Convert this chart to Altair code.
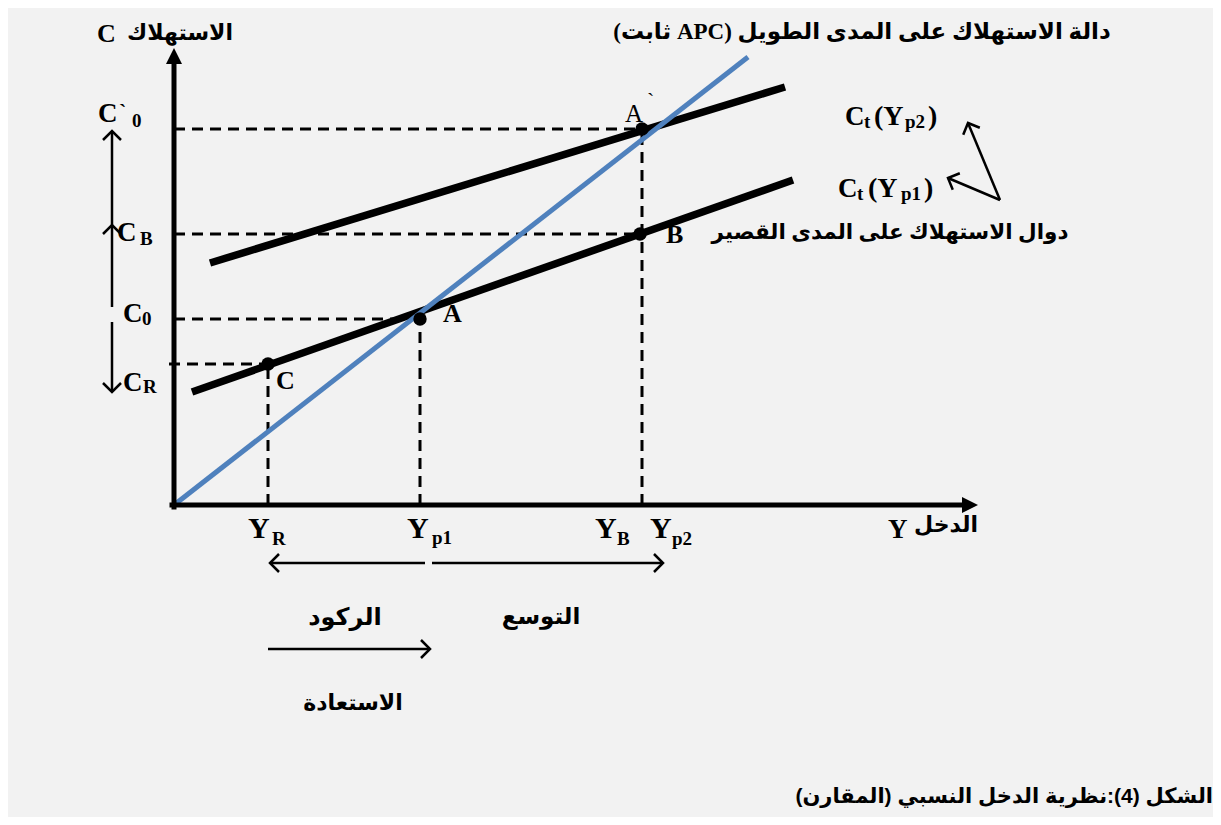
import altair as alt
import pandas as pd

# ---------------- data (economic units: income Y to the right, consumption C upward) -------------
lr_Y = [0, 574]            # long-run consumption function (constant APC)
lr_C = [0, 448]
sr1_Y = [18, 619]          # short-run consumption function Ct(Yp1)
sr1_C = [113, 325]
sr2_Y = [36, 611]          # short-run consumption function Ct(Yp2)
sr2_C = [242, 418]
pt_name = ["A`", "B", "A", "C"]
pt_Y = [468, 466, 246, 94]
pt_C = [376, 271, 186, 141]
axis_Y_max = 804
axis_C_max = 457

# Latin labels: (text, left Y, baseline C, font size) -- bold serif
latin_labels = [
    ("C", -76, 383, 27), ("`", -55, 386, 22), ("0", -42, 378, 19),
    ("C", -57, 264, 27), ("B", -34, 260, 19),
    ("C", -51, 183, 27), ("0", -32, 180, 19),
    ("C", -51, 114, 27), ("R", -31, 112, 19),
    ("B", 492, 262, 26), ("A", 269, 183, 26), ("C", 102, 116, 26),
    ("Y", 74, -33, 30), ("R", 98, -40, 19),
    ("Y", 233, -33, 30), ("p1", 258, -39, 19),
    ("Y", 421, -33, 30), ("B", 443, -40, 19),
    ("Y", 476, -33, 30), ("p2", 498, -40, 19),
    ("C", 671, 380, 27), ("t", 690, 377, 19), ("(Y", 700, 380, 28), ("p2", 731, 377, 19), (")", 754, 380, 28),
    ("C", 664, 308, 27), ("t", 683, 305, 19), ("(Y", 694, 308, 28), ("p1", 727, 305, 19), (")", 750, 308, 28),
    ("C", -77, 463, 26),      # axis name C
    ("Y", 714, -33, 27),      # axis name Y
]
# regular-weight label of point A`
regular_labels = [("A", 451, 383, 25), ("`", 473, 397, 22)]

# Arabic labels: (text, centre Y, centre C, font size)
arabic_labels = [
    ("الاستهلاك", 6, 472, 22),
    ("دالة الاستهلاك على المدى الطويل (APC ثابت)", 688, 473, 23),
    ("دوال الاستهلاك على المدى القصير", 716, 272, 21.5),
    ("الدخل", 772, -20, 22),
    ("الركود", 171, -113, 24),
    ("التوسع", 367, -112, 23),
    ("الاستعادة", 179, -198, 22),
]
caption = ("الشكل (4):نظرية الدخل النسبي (المقارن)", 1039, -292, 21)

# thin arrows: shafts (Y, C, Y2, C2) and heads (Y, C, direction)
arrow_shafts = [(-62, 374, -62, 198), (-62, 183, -62, 113),
                (251, -58, 96, -58), (258, -58, 489, -58),
                (94, -144, 256, -144),
                (826, 305, 794, 382), (826, 305, 774, 327)]
arrow_heads = [(-62, 374, 0), (-62, 280, 0), (-62, 113, 180),
               (96, -58, 270), (489, -58, 90), (256, -144, 90),
               (794, 382, 337), (774, 327, 293)]

# ---------------- build ----------------
XS = alt.Scale(domain=[-166, 1039], nice=False, zero=False)
YS = alt.Scale(domain=[-312, 497], nice=False, zero=False)


def rtl(s):
    return "\u202B" + s + "\u202C"


def seg_df(rows):
    return pd.DataFrame(rows, columns=["x", "y", "x2", "y2"])


def rules(df, **kw):
    return alt.Chart(df).mark_rule(**kw).encode(
        x=alt.X("x:Q", scale=XS, axis=None),
        y=alt.Y("y:Q", scale=YS, axis=None),
        x2="x2:Q", y2="y2:Q")


axes_df = seg_df([(-2, 0, axis_Y_max - 12, 0), (0, -2, 0, axis_C_max - 12)])
blue_df = seg_df([(lr_Y[0], lr_C[0], lr_Y[1], lr_C[1])])
black_df = seg_df([(sr1_Y[0], sr1_C[0], sr1_Y[1], sr1_C[1]),
                   (sr2_Y[0], sr2_C[0], sr2_Y[1], sr2_C[1])])
dash_rows = []
for n, yv, cv in zip(pt_name, pt_Y, pt_C):
    dash_rows.append((-5 if n == "C" else 0, cv, yv, cv))
    if n != "B":
        dash_rows.append((yv, 0, yv, cv))
dash_df = seg_df(dash_rows)
shaft_df = seg_df(arrow_shafts)
head_df = pd.DataFrame(arrow_heads, columns=["x", "y", "ang"])
tri_df = pd.DataFrame([(0, axis_C_max, 0), (axis_Y_max, 0, 90)], columns=["x", "y", "ang"])
pts_df = pd.DataFrame({"x": pt_Y, "y": pt_C, "name": pt_name})
lat_df = pd.DataFrame(latin_labels, columns=["t", "x", "y", "fs"])
reg_df = pd.DataFrame(regular_labels, columns=["t", "x", "y", "fs"])
ar_df = pd.DataFrame([(rtl(t), x, y, f) for t, x, y, f in arabic_labels], columns=["t", "x", "y", "fs"])
cap_df = pd.DataFrame([(rtl(caption[0]), caption[1], caption[2], caption[3])], columns=["t", "x", "y", "fs"])

enc_xy = dict(x=alt.X("x:Q", scale=XS, axis=None), y=alt.Y("y:Q", scale=YS, axis=None))


def texts(df, **kw):
    return alt.Chart(df).mark_text(color="black", **kw).encode(
        text="t:N", size=alt.Size("fs:Q", scale=None), **enc_xy)


layers = [
    rules(dash_df, color="black", strokeWidth=3, strokeDash=[11, 7]),
    rules(black_df, color="black", strokeWidth=7.5, strokeCap="butt"),
    rules(blue_df, color="#4f81bd", strokeWidth=5, strokeCap="butt"),
    rules(axes_df, color="black", strokeWidth=5, strokeCap="square"),
    rules(shaft_df, color="black", strokeWidth=2.5),
    alt.Chart(tri_df).mark_point(shape="M0,0L-0.5,1L0.5,1Z", filled=True, color="black",
                                 size=1024, opacity=1).encode(
        angle=alt.Angle("ang:Q", scale=None), **enc_xy),
    alt.Chart(head_df).mark_point(shape="M-1,1L0,0L1,1", filled=False, color="black",
                                  strokeWidth=2.5, size=324, opacity=1, strokeJoin="miter").encode(
        angle=alt.Angle("ang:Q", scale=None), **enc_xy),
    alt.Chart(pts_df).mark_circle(color="black", size=180, opacity=1).encode(**enc_xy),
    texts(lat_df, font="Liberation Serif", fontWeight="bold", align="left", baseline="alphabetic"),
    texts(reg_df, font="Liberation Serif", fontWeight="normal", align="left", baseline="alphabetic"),
    texts(ar_df, font="Liberation Serif, DejaVu Sans", fontWeight="bold", align="center", baseline="middle"),
    texts(cap_df, font="Liberation Sans, DejaVu Sans", fontWeight="bold", align="right", baseline="middle"),
]

chart = alt.layer(*layers).properties(
    width=1205, height=809, padding=0,
    autosize=alt.AutoSizeParams(type="none"),
).configure(background="#f2f2f2").configure_view(stroke=None)

chart.save("out.html", embed_options={"renderer": "svg", "actions": False})
